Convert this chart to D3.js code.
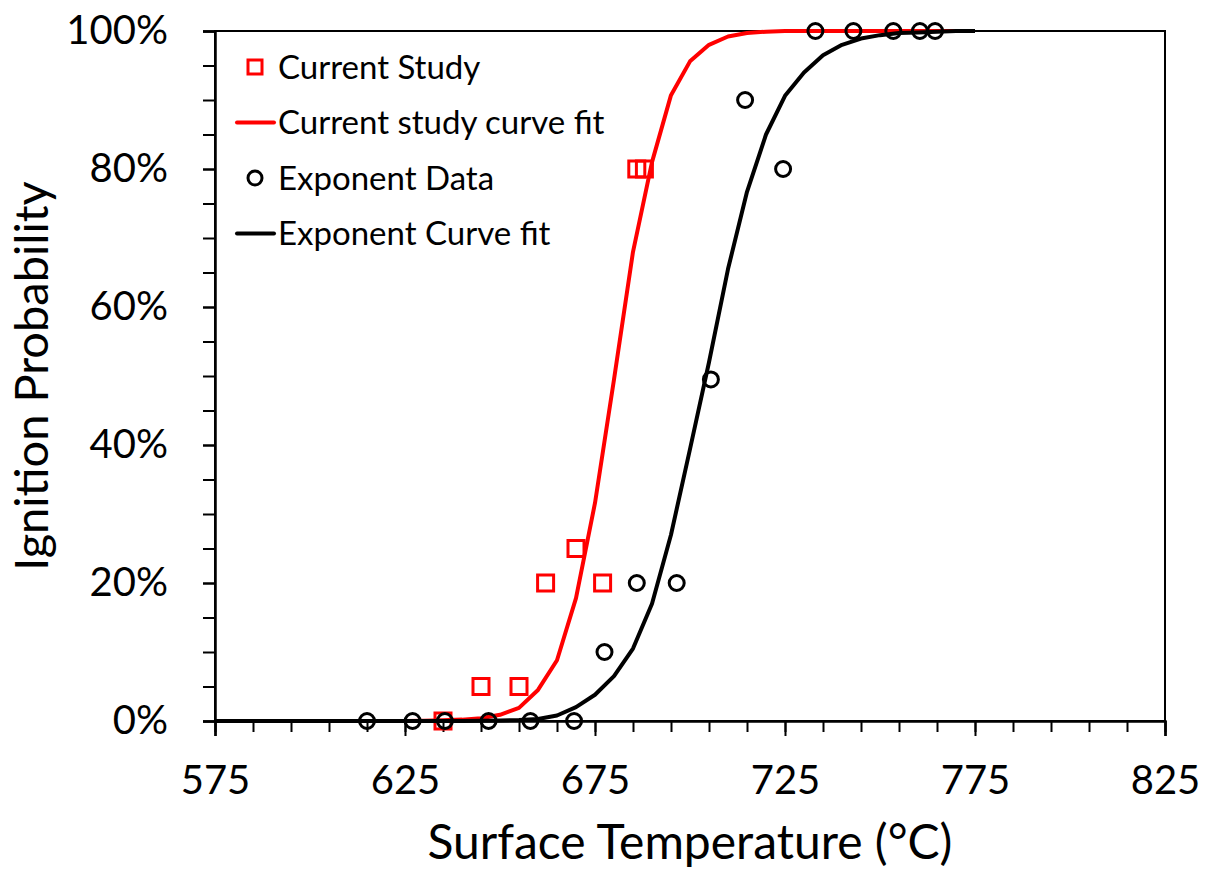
<!DOCTYPE html>
<html>
<head>
<meta charset="utf-8">
<script src="https://cdn.jsdelivr.net/npm/d3@7"></script>
<style>
  html, body { margin: 0; padding: 0; background: #fff; }
  svg text { font-family: Lato, "Open Sans", sans-serif; fill: #000; }
</style>
</head>
<body>
<div id="chart"></div>
<script>
// measured points
const studyTemp = [635, 645, 655, 662, 670, 677, 686, 688];
const studyProb = [0, 0.05, 0.05, 0.20, 0.25, 0.20, 0.80, 0.80];

const expTemp = [615, 627, 635.5, 647, 658, 669.5, 677.5, 686, 696.5, 705.5, 714.5, 724.5, 733, 743, 753.5, 760.5, 764.5];
const expProb = [0, 0, 0, 0, 0, 0, 0.10, 0.20, 0.20, 0.495, 0.90, 0.80, 1, 1, 1, 1, 1];

// curve fits, sampled every 5 °C
const fitTemp = [575, 580, 585, 590, 595, 600, 605, 610, 615, 620,
                 625, 630, 635, 640, 645, 650, 655, 660, 665, 670,
                 675, 680, 685, 690, 695, 700, 705, 710, 715, 720,
                 725, 730, 735, 740, 745, 750, 755, 760, 765, 770, 775];
const studyFit = [0, 0, 0, 0, 0, 0, 0, 0, 0, 0,
                  0, 0.0005, 0.001, 0.002, 0.004, 0.009, 0.019, 0.045, 0.088, 0.178,
                  0.316, 0.495, 0.68, 0.81, 0.907, 0.956, 0.98, 0.992, 0.997, 0.999,
                  1, 1, 1, 1, 1, 1, 1, 1, 1, 1, 1];
const expFit = [0, 0, 0, 0, 0, 0, 0, 0, 0, 0,
                0, 0, 0, 0, 0.0003, 0.0007, 0.0015, 0.003, 0.008, 0.02,
                0.038, 0.065, 0.105, 0.17, 0.27, 0.394, 0.52, 0.655, 0.767, 0.85,
                0.906, 0.94, 0.965, 0.98, 0.989, 0.994, 0.997, 0.998, 0.999, 1, 1];

const xMajor = [575, 625, 675, 725, 775, 825];
const yMajor = [0, 0.2, 0.4, 0.6, 0.8, 1];

const legendItems = [
    {label: "Current Study", type: "square"},
    {label: "Current study curve fit", type: "line", color: "#ff0000"},
    {label: "Exponent Data", type: "circle"},
    {label: "Exponent Curve fit", type: "line", color: "#000000"}
];

const width = 1211, height = 874;
const plotLeft = 215, plotRight = 1165, plotTop = 31, plotBottom = 721;

const svg = d3.select("#chart").append("svg")
    .attr("width", width)
    .attr("height", height);

const x = d3.scaleLinear().domain([575, 825]).range([plotLeft, plotRight]);
const y = d3.scaleLinear().domain([0, 1]).range([plotBottom, plotTop]);

// plot frame
svg.append("rect")
    .attr("x", plotLeft).attr("y", plotTop)
    .attr("width", plotRight - plotLeft).attr("height", plotBottom - plotTop)
    .attr("fill", "none").attr("stroke", "#000").attr("stroke-width", 2);

// minor ticks
const xMinor = d3.range(575, 826, 10);
const yMinor = d3.range(0, 1.001, 0.05);

svg.append("g")
    .attr("transform", "translate(0," + plotBottom + ")")
    .call(d3.axisBottom(x).tickValues(xMinor).tickSize(11).tickFormat(""))
    .call(g => g.select(".domain").remove())
    .selectAll("line").attr("stroke-width", 2);

svg.append("g")
    .attr("transform", "translate(" + plotLeft + ",0)")
    .call(d3.axisLeft(y).tickValues(yMinor).tickSize(12).tickFormat(""))
    .call(g => g.select(".domain").remove())
    .selectAll("line").attr("stroke-width", 2);

// major axes
const xAxis = svg.append("g")
    .attr("transform", "translate(0," + plotBottom + ")")
    .call(d3.axisBottom(x).tickValues(xMajor).tickSize(15).tickPadding(30).tickFormat(d3.format("d")));
xAxis.select(".domain").attr("stroke-width", 2.5);
xAxis.selectAll("line").attr("stroke-width", 2);
xAxis.selectAll("text").attr("font-size", 40).attr("font-family", "Lato, sans-serif");

const yAxis = svg.append("g")
    .attr("transform", "translate(" + plotLeft + ",0)")
    .call(d3.axisLeft(y).tickValues(yMajor).tickSize(12).tickPadding(35).tickFormat(d3.format(".0%")));
yAxis.select(".domain").attr("stroke-width", 2.5);
yAxis.selectAll("line").attr("stroke-width", 2);
yAxis.selectAll("text").attr("font-size", 40).attr("font-family", "Lato, sans-serif");

// axis titles
svg.append("text")
    .attr("x", (plotLeft + plotRight) / 2)
    .attr("y", 859)
    .attr("text-anchor", "middle")
    .attr("font-size", 48)
    .text("Surface Temperature (°C)");

svg.append("text")
    .attr("transform", "translate(48," + ((plotTop + plotBottom) / 2) + ") rotate(-90)")
    .attr("text-anchor", "middle")
    .attr("font-size", 47)
    .text("Ignition Probability");

// series
const line = d3.line()
    .x(d => x(d[0]))
    .y(d => y(d[1]));

const plot = svg.append("g");

plot.selectAll("rect.study")
    .data(d3.zip(studyTemp, studyProb))
    .enter()
    .append("rect")
    .attr("class", "study")
    .attr("x", d => x(d[0]) - 8)
    .attr("y", d => y(d[1]) - 8)
    .attr("width", 16).attr("height", 16)
    .attr("fill", "none")
    .attr("stroke", "#ff0000")
    .attr("stroke-width", 3);

plot.append("path")
    .datum(d3.zip(fitTemp, studyFit))
    .attr("d", line)
    .attr("fill", "none")
    .attr("stroke", "#ff0000")
    .attr("stroke-width", 4)
    .attr("stroke-linejoin", "round");

plot.selectAll("circle.exp")
    .data(d3.zip(expTemp, expProb))
    .enter()
    .append("circle")
    .attr("class", "exp")
    .attr("cx", d => x(d[0]))
    .attr("cy", d => y(d[1]))
    .attr("r", 7.5)
    .attr("fill", "none")
    .attr("stroke", "#000")
    .attr("stroke-width", 3);

plot.append("path")
    .datum(d3.zip(fitTemp, expFit))
    .attr("d", line)
    .attr("fill", "none")
    .attr("stroke", "#000")
    .attr("stroke-width", 4)
    .attr("stroke-linejoin", "round");

// legend
const legend = svg.append("g");
legendItems.forEach((item, i) => {
    const cy = 67 + i * 55.5;
    if (item.type === "square") {
        legend.append("rect")
            .attr("x", 248).attr("y", cy - 7)
            .attr("width", 14).attr("height", 14)
            .attr("fill", "none").attr("stroke", "#ff0000").attr("stroke-width", 3);
    } else if (item.type === "circle") {
        legend.append("circle")
            .attr("cx", 255).attr("cy", cy).attr("r", 7)
            .attr("fill", "none").attr("stroke", "#000").attr("stroke-width", 3);
    } else {
        legend.append("line")
            .attr("x1", 237).attr("x2", 274)
            .attr("y1", cy).attr("y2", cy)
            .attr("stroke", item.color).attr("stroke-width", 4)
            .attr("stroke-linecap", "round");
    }
    legend.append("text")
        .attr("x", 278)
        .attr("y", cy)
        .attr("dy", "0.35em")
        .attr("font-size", 33)
        .text(item.label);
});
</script>
</body>
</html>
